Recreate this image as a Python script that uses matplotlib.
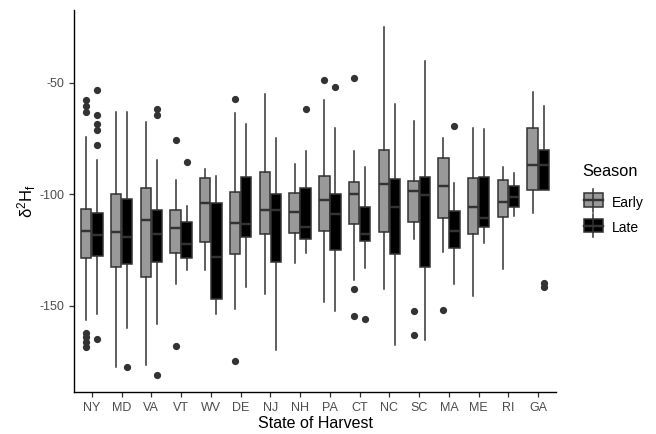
import matplotlib
matplotlib.use("Agg")
import matplotlib.pyplot as plt
from matplotlib.patches import Rectangle
from matplotlib.lines import Line2D

plt.rcParams['font.family'] = ['Liberation Sans', 'DejaVu Sans']
plt.rcParams['mathtext.default'] = 'regular'

states = ["NY", "MD", "VA", "VT", "WV", "DE", "NJ", "NH", "PA", "CT", "NC", "SC", "MA", "ME", "RI", "GA"]
seasons = ["Early", "Late"]

# Early season box statistics
early_whishi = [-74.2, -63.0, -67.6, -93.6, -88.5, -63.4, -55.1, -86.4, -57.5, -80.4, -24.9, -67.2, -74.5, -70.3, -87.9, -54.0]
early_q3     = [-106.4, -99.6, -97.3, -107.0, -92.8, -99.1, -89.9, -99.3, -91.6, -94.6, -79.9, -94.0, -83.6, -92.8, -93.6, -70.1]
early_med    = [-116.3, -117.0, -111.5, -115.2, -104.0, -113.0, -107.0, -107.9, -102.5, -99.9, -95.4, -98.4, -96.3, -105.5, -103.6, -86.6]
early_q1     = [-128.7, -132.4, -136.9, -126.1, -121.5, -126.9, -117.9, -117.5, -116.3, -113.3, -116.7, -112.2, -110.4, -117.9, -110.0, -97.8]
early_whislo = [-156.3, -177.5, -176.4, -140.1, -133.9, -151.5, -144.6, -130.9, -148.1, -138.4, -142.5, -120.0, -126.0, -145.5, -133.4, -108.5]
early_out = [
    [-57.5, -60.4, -63.0, -162.2, -164.0, -166.0, -168.2],
    [], [], [-75.7, -167.9], [], [-57.2, -174.6], [], [], [-48.5],
    [-47.6, -142.4, -154.3], [], [-152.5, -163.0], [-151.8], [], [], [],
]

# Late season box statistics
late_whishi = [-84.6, -63.0, -84.6, -105.1, -91.8, -68.2, -74.6, -80.6, -70.0, -87.6, -59.3, -40.3, -95.1, -70.6, -90.6, -60.4]
late_q3     = [-108.5, -102.2, -107.0, -112.5, -104.0, -92.4, -99.6, -97.3, -99.9, -105.5, -93.1, -92.4, -107.5, -92.2, -96.1, -79.9]
late_med    = [-118.2, -119.3, -117.8, -122.4, -127.9, -113.3, -107.0, -114.8, -108.8, -117.8, -105.8, -100.4, -116.3, -110.7, -101.3, -86.9]
late_q1     = [-127.5, -131.3, -130.4, -128.7, -147.0, -119.3, -130.1, -120.0, -124.9, -120.8, -126.9, -132.4, -123.9, -114.5, -105.8, -97.8]
late_whislo = [-153.6, -159.7, -158.2, -133.9, -153.6, -141.3, -169.7, -126.4, -152.5, -133.1, -167.5, -165.2, -140.3, -121.9, -109.6, -98.1]
late_out = [
    [-53.3, -64.2, -68.2, -70.9, -77.9, -164.9],
    [-177.6], [-61.6, -64.6, -181.0], [-85.5], [], [], [], [-61.5], [-51.8],
    [-155.8], [], [], [-69.3], [], [], [-139.6, -141.6],
]

fills = {"Early": "#999999", "Late": "#000000"}
edge = "#333333"

W, H = 656, 434
fig = plt.figure(figsize=(W / 100, H / 100), dpi=100)
ax = fig.add_axes([74 / W, 1 - 392 / H, (556 - 74) / W, (392 - 10) / H])

def stats(wh, q3, med, q1, wl, out):
    return [dict(whishi=wh[i], q3=q3[i], med=med[i], q1=q1[i], whislo=wl[i],
                 fliers=out[i], label="") for i in range(len(states))]

series = {
    "Early": stats(early_whishi, early_q3, early_med, early_q1, early_whislo, early_out),
    "Late": stats(late_whishi, late_q3, late_med, late_q1, late_whislo, late_out),
}
offsets = {"Early": -0.1875, "Late": 0.1875}
lw = 1.1
for s in seasons:
    pos = [i + offsets[s] for i in range(len(states))]
    ax.bxp(series[s], positions=pos, widths=0.35, patch_artist=True, showcaps=False,
           boxprops=dict(facecolor=fills[s], edgecolor=edge, linewidth=lw),
           medianprops=dict(color=edge, linewidth=lw * 1.6),
           whiskerprops=dict(color=edge, linewidth=lw),
           flierprops=dict(marker='o', markerfacecolor=edge, markeredgecolor=edge, markersize=4.2),
           manage_ticks=False, zorder=2)

ax.set_xlim(-0.6, len(states) - 0.4)
ax.set_ylim(-188.6, -17.3)
ax.set_xticks(range(len(states)))
ax.set_xticklabels(states)
ax.set_yticks([-150, -100, -50])
ax.set_yticklabels(["-150", "-100", "-50"])
ax.tick_params(axis='both', colors='#333333', labelcolor='#4D4D4D', labelsize=9, length=3.5, width=0.9)
for sp in ["top", "right"]:
    ax.spines[sp].set_visible(False)
for sp in ["left", "bottom"]:
    ax.spines[sp].set_color("black")
    ax.spines[sp].set_linewidth(1.0)
ax.set_xlabel("State of Harvest", fontsize=11.5, labelpad=2)
ax.set_ylabel("δ$^2$H$_f$", fontsize=12, labelpad=1)

# Manual legend (figure pixel coordinates)
def fx(px):
    return px / W

def fy(py):
    return 1 - py / H

tf = fig.transFigure
fig.text(fx(582), fy(176), "Season", fontsize=11.8, ha='left', va='baseline', transform=tf)
key_centers = {"Early": 200.0, "Late": 225.5}
for s in seasons:
    cy = key_centers[s]
    x0, x1 = 583.5, 603.0
    xc = (x0 + x1) / 2
    fig.add_artist(Line2D([fx(xc), fx(xc)], [fy(cy - 11.5), fy(cy + 11.5)], color=edge, lw=lw, transform=tf))
    fig.add_artist(Rectangle((fx(x0), fy(cy + 6.8)), fx(x1) - fx(x0), fy(cy - 6.8) - fy(cy + 6.8),
                             facecolor=fills[s], edgecolor=edge, lw=lw, transform=tf))
    fig.add_artist(Line2D([fx(x0), fx(x1)], [fy(cy), fy(cy)], color=edge, lw=lw * 1.6, transform=tf))
    fig.text(fx(612), fy(cy + 2.5), s, fontsize=10, ha='left', va='center', transform=tf)

fig.savefig("out.png", dpi=100)
